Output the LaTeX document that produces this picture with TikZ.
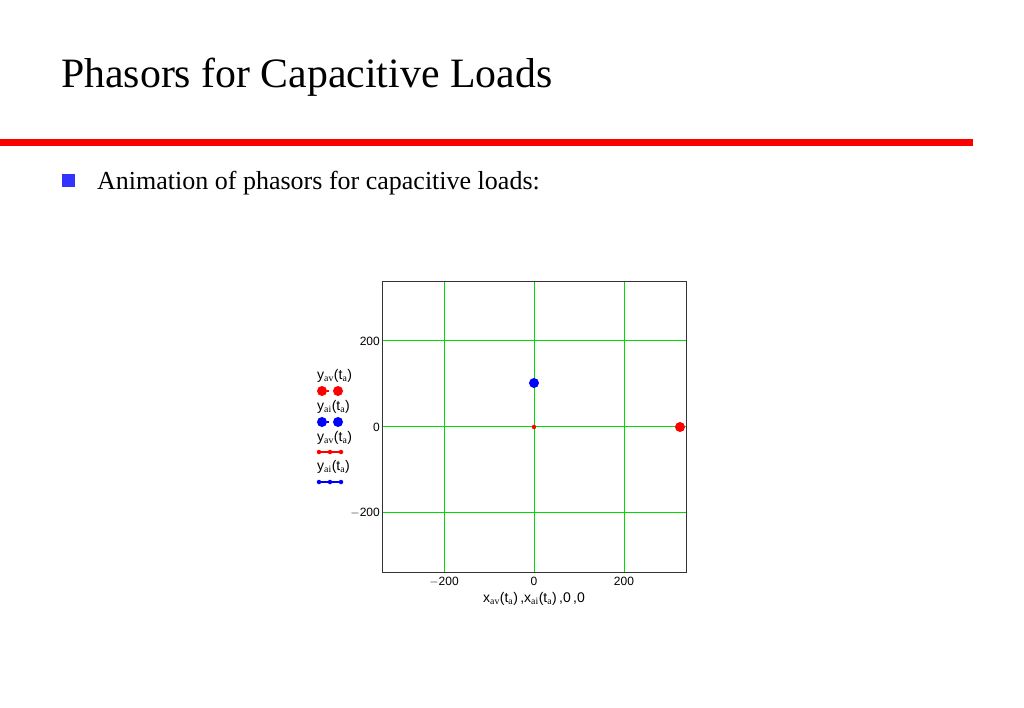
\documentclass[tikz,border=0pt]{standalone}
\usepackage{fontspec}
\setmainfont{Liberation Serif}
\setsansfont{Liberation Sans}
\usetikzlibrary{positioning}
\definecolor{gridgreen}{RGB}{0,220,0}
\definecolor{barred}{RGB}{250,0,0}
\definecolor{bulletblue}{RGB}{51,51,255}
\begin{document}
\begin{tikzpicture}[
          x=1pt, y=-1pt,
          tick/.style={font=\sffamily\fontsize{12}{12}\selectfont, inner sep=1pt},
          gridline/.style={gridgreen, line width=0.9pt},
          bigdot/.style={circle, fill, inner sep=0pt, minimum size=10pt},
          smalldot/.style={circle, fill, inner sep=0pt, minimum size=4.5pt},
          legend/.style={font=\sffamily\fontsize{14}{14}\selectfont, inner sep=0pt, anchor=west}
        ]
        \useasboundingbox (0,0) rectangle (1024,708);

        % Title and rule
        \node[anchor=base west, inner sep=0pt, font=\fontsize{41.8}{42}\selectfont] (title) at (61,88) {Phasors for Capacitive Loads};
        \fill[barred] (0,139) rectangle (973,146);

        % Bullet
        \fill[bulletblue] (62,174) rectangle (75,187);
        \node[anchor=base west, inner sep=0pt, font=\fontsize{26}{26}\selectfont] (bullet) at (97,190) {Animation of phasors for capacitive loads:};

        % Grid
        \foreach \gx in {444,534,624} \draw[gridline] (\gx,281) -- (\gx,572);
        \foreach \gy in {340,426,512} \draw[gridline] (382,\gy) -- (686,\gy);
        \draw[black!80, line width=0.8pt] (382,281) rectangle (686,572);

        % Tick labels
        \node[tick, anchor=east] (y200) at (381,341) {200};
        \node[tick, anchor=east] (y0) at (381,427) {0};
        \node[tick, anchor=east] (ym200) at (381,513) {$-$200};
        \node[tick, anchor=north] (xm200) at (444,576) {$-$200};
        \node[tick, anchor=north] (x0) at (534,576) {0};
        \node[tick, anchor=north] (x200) at (624,576) {200};
        \node[font=\sffamily\fontsize{14}{14}\selectfont, below=2pt of x0] (xlabel)
          {x$_{\mathrm{av}}$(t$_{\mathrm{a}}$)\,,x$_{\mathrm{ai}}$(t$_{\mathrm{a}}$)\,,0\,,0};

        % Legend
        \node[legend] (l1) at (317,376) {y$_{\mathrm{av}}$(t$_{\mathrm{a}}$)};
        \node[bigdot, red] (l1a) at (322,391) {};
        \node[bigdot, red] (l1b) at (338,391) {};
        \draw[red, line width=1.4pt] (l1a) -- +(7,0);
        \node[legend] (l2) at (317,407) {y$_{\mathrm{ai}}$(t$_{\mathrm{a}}$)};
        \node[bigdot, blue] (l2a) at (322,422) {};
        \node[bigdot, blue] (l2b) at (338,422) {};
        \draw[blue, line width=1.4pt] (l2a) -- +(7,0);
        \node[legend] (l3) at (317,438) {y$_{\mathrm{av}}$(t$_{\mathrm{a}}$)};
        \draw[red, line width=1.4pt] (318,452) -- (342,452);
        \foreach \lx in {319,330,341} \node[smalldot, red] at (\lx,452) {};
        \node[legend] (l4) at (317,467) {y$_{\mathrm{ai}}$(t$_{\mathrm{a}}$)};
        \draw[blue, line width=1.4pt] (318,482) -- (342,482);
        \foreach \lx in {319,330,341} \node[smalldot, blue] at (\lx,482) {};

        % Phasor tips
        \node[bigdot, blue] (ai) at (534,383) {};
        \node[bigdot, red] (av) at (680,427) {};
        \node[smalldot, red] (origin) at (534,427) {};
      \end{tikzpicture}
\end{document}
